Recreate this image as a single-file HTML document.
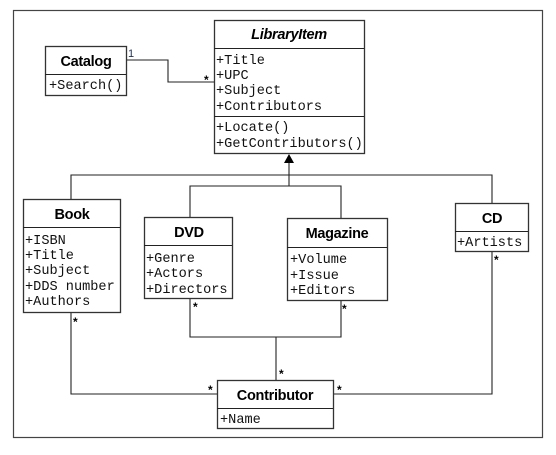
<!DOCTYPE html>
<html><head><meta charset="utf-8"><style>
html,body{margin:0;padding:0;background:#fff;}
svg{display:block;}
.h{font-family:"Liberation Sans",sans-serif;font-weight:bold;font-size:14.5px;text-anchor:middle;fill:#000;letter-spacing:-0.3px;}
.a{font-family:"Liberation Mono",monospace;font-size:13.6px;fill:#111;}
.s{font-family:"Liberation Sans",sans-serif;font-size:12px;font-weight:bold;fill:#000;}
rect{fill:#fff;stroke:#333;stroke-width:1.3;}
.l{fill:none;stroke:#222;stroke-width:1.1;}
</style></head><body>
<svg width="556" height="455" viewBox="0 0 556 455">
<rect x="13.5" y="10.5" width="529" height="427" style="stroke:#444;stroke-width:1.2"/>
<path class="l" d="M126 60 H168 V82 H214"/>
<path class="l" d="M71 199 V175 H492 V203"/>
<path class="l" d="M190 217 V186 H341 V218"/>
<path class="l" d="M289 186 V160"/>
<polygon points="289,154 284,163 294,163" fill="#000"/>
<path class="l" d="M71 312 V394 H217"/>
<path class="l" d="M190 298 V337 H341 V300"/>
<path class="l" d="M276 337 V380"/>
<path class="l" d="M492 251 V394 H333"/>
<rect x="45.5" y="46.5" width="81" height="49"/>
<line class="l" x1="45" y1="74.5" x2="126" y2="74.5"/>
<text class="h" x="86" y="66">Catalog</text>
<text class="a" x="49" y="89">+Search()</text>
<text x="128" y="57" style="font-family:'Liberation Sans',sans-serif;font-size:11px;fill:#235">1</text>
<text class="s" x="204" y="84">*</text>
<rect x="214.5" y="20.5" width="150" height="133"/>
<line class="l" x1="214" y1="48.5" x2="364" y2="48.5"/>
<line class="l" x1="214" y1="116.5" x2="364" y2="116.5"/>
<text class="h" x="289" y="39" font-style="italic">LibraryItem</text>
<text class="a" x="216" y="64">+Title</text>
<text class="a" x="216" y="79">+UPC</text>
<text class="a" x="216" y="94">+Subject</text>
<text class="a" x="216" y="110">+Contributors</text>
<text class="a" x="216" y="131">+Locate()</text>
<text class="a" x="216" y="147">+GetContributors()</text>
<rect x="23.5" y="199.5" width="97" height="113"/>
<line class="l" x1="23" y1="227.5" x2="120" y2="227.5"/>
<text class="h" x="72" y="219">Book</text>
<text class="a" x="25" y="244">+ISBN</text>
<text class="a" x="25" y="259">+Title</text>
<text class="a" x="25" y="274">+Subject</text>
<text class="a" x="25" y="290">+DDS number</text>
<text class="a" x="25" y="305">+Authors</text>
<text class="s" x="73" y="326">*</text>
<rect x="144.5" y="217.5" width="88" height="81"/>
<line class="l" x1="144" y1="245.5" x2="232" y2="245.5"/>
<text class="h" x="189" y="237">DVD</text>
<text class="a" x="146" y="262">+Genre</text>
<text class="a" x="146" y="277">+Actors</text>
<text class="a" x="146" y="293">+Directors</text>
<text class="s" x="193" y="311">*</text>
<rect x="287.5" y="218.5" width="100" height="82"/>
<line class="l" x1="287" y1="247.5" x2="387" y2="247.5"/>
<text class="h" x="337" y="238">Magazine</text>
<text class="a" x="290" y="263">+Volume</text>
<text class="a" x="290" y="279">+Issue</text>
<text class="a" x="290" y="294">+Editors</text>
<text class="s" x="342" y="313">*</text>
<rect x="455.5" y="203.5" width="73" height="48"/>
<line class="l" x1="455" y1="231.5" x2="528" y2="231.5"/>
<text class="h" x="492" y="223">CD</text>
<text class="a" x="457" y="246">+Artists</text>
<text class="s" x="494" y="264">*</text>
<rect x="217.5" y="380.5" width="116" height="48"/>
<line class="l" x1="217" y1="408.5" x2="333" y2="408.5"/>
<text class="h" x="275" y="400">Contributor</text>
<text class="a" x="220" y="423">+Name</text>
<text class="s" x="279" y="378">*</text>
<text class="s" x="208" y="394">*</text>
<text class="s" x="337" y="394">*</text>
</svg>
</body></html>
